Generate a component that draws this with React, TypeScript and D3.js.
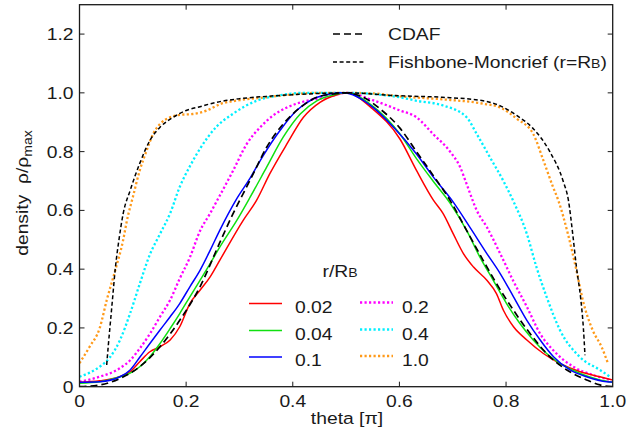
import React from "react";
import * as d3 from "d3";

// ---------- data (theta in units of pi, density normalised) ----------
const xTicks = [0, 0.2, 0.4, 0.6, 0.8, 1.0];
const xTickLabels = ["0", "0.2", "0.4", "0.6", "0.8", "1.0"];
const yTicks = [0, 0.2, 0.4, 0.6, 0.8, 1.0, 1.2];
const yTickLabels = ["0", "0.2", "0.4", "0.6", "0.8", "1.0", "1.2"];

// r/RB = 0.02
const thetaR = [0, 0.038, 0.076, 0.095, 0.113, 0.132, 0.151, 0.17, 0.188, 0.207, 0.226, 0.245, 0.263, 0.307, 0.332, 0.357, 0.389, 0.42, 0.451, 0.482, 0.501, 0.55, 0.601, 0.632, 0.664, 0.682, 0.701, 0.72, 0.739, 0.764, 0.782, 0.795, 0.814, 0.839, 0.87, 0.901, 0.939, 0.976, 1.0];
const rhoR = [0.015, 0.02, 0.035, 0.051, 0.085, 0.119, 0.136, 0.159, 0.204, 0.283, 0.328, 0.374, 0.43, 0.566, 0.634, 0.725, 0.826, 0.917, 0.968, 0.993, 1.0, 0.945, 0.843, 0.736, 0.634, 0.589, 0.52, 0.453, 0.407, 0.362, 0.317, 0.26, 0.204, 0.159, 0.113, 0.079, 0.051, 0.034, 0.023];

// r/RB = 0.04
const thetaG = [0, 0.038, 0.076, 0.095, 0.113, 0.132, 0.151, 0.17, 0.188, 0.207, 0.226, 0.245, 0.263, 0.295, 0.32, 0.351, 0.382, 0.414, 0.445, 0.476, 0.5, 0.55, 0.601, 0.632, 0.663, 0.695, 0.726, 0.751, 0.776, 0.801, 0.826, 0.851, 0.876, 0.901, 0.939, 0.976, 1.0];
const rhoG = [0.012, 0.017, 0.034, 0.046, 0.068, 0.102, 0.147, 0.198, 0.249, 0.306, 0.362, 0.419, 0.475, 0.566, 0.645, 0.747, 0.849, 0.928, 0.973, 0.993, 1.0, 0.955, 0.86, 0.776, 0.7, 0.625, 0.532, 0.441, 0.362, 0.283, 0.215, 0.159, 0.113, 0.079, 0.045, 0.023, 0.015];

// r/RB = 0.1
const thetaB = [0, 0.038, 0.076, 0.095, 0.113, 0.132, 0.151, 0.17, 0.188, 0.207, 0.226, 0.245, 0.263, 0.295, 0.32, 0.344, 0.376, 0.407, 0.438, 0.47, 0.495, 0.551, 0.589, 0.632, 0.663, 0.701, 0.732, 0.764, 0.789, 0.814, 0.839, 0.864, 0.889, 0.92, 0.951, 0.989, 1.0];
const rhoB = [0.015, 0.017, 0.034, 0.057, 0.1, 0.147, 0.193, 0.238, 0.283, 0.34, 0.396, 0.464, 0.532, 0.64, 0.71, 0.785, 0.872, 0.94, 0.979, 0.996, 1.0, 0.95, 0.883, 0.792, 0.715, 0.628, 0.543, 0.453, 0.385, 0.306, 0.226, 0.159, 0.102, 0.057, 0.034, 0.017, 0.016];

// r/RB = 0.2
const thetaM = [0, 0.038, 0.076, 0.095, 0.113, 0.132, 0.151, 0.17, 0.188, 0.207, 0.226, 0.245, 0.263, 0.288, 0.314, 0.339, 0.363, 0.389, 0.426, 0.464, 0.5, 0.55, 0.601, 0.632, 0.663, 0.695, 0.714, 0.726, 0.745, 0.764, 0.789, 0.813, 0.839, 0.864, 0.888, 0.926, 0.963, 0.995];
const rhoM = [0.017, 0.034, 0.063, 0.09, 0.13, 0.18, 0.238, 0.295, 0.368, 0.44, 0.53, 0.59, 0.65, 0.735, 0.827, 0.883, 0.923, 0.95, 0.973, 0.985, 1.0, 0.975, 0.94, 0.917, 0.86, 0.8, 0.747, 0.69, 0.6, 0.543, 0.453, 0.362, 0.272, 0.18, 0.125, 0.068, 0.04, 0.023];

// r/RB = 0.4
const thetaC = [0, 0.019, 0.038, 0.057, 0.076, 0.095, 0.113, 0.132, 0.151, 0.17, 0.188, 0.207, 0.226, 0.257, 0.288, 0.332, 0.37, 0.42, 0.5, 0.6, 0.632, 0.682, 0.726, 0.745, 0.77, 0.795, 0.813, 0.839, 0.857, 0.876, 0.901, 0.939, 0.976, 0.995];
const rhoC = [0.034, 0.048, 0.068, 0.1, 0.159, 0.25, 0.35, 0.45, 0.52, 0.59, 0.68, 0.75, 0.81, 0.885, 0.929, 0.973, 0.99, 1.0, 1.0, 0.985, 0.973, 0.957, 0.917, 0.86, 0.78, 0.7, 0.634, 0.52, 0.407, 0.306, 0.193, 0.1, 0.057, 0.034];

// r/RB = 1.0
const thetaO = [0, 0.019, 0.038, 0.051, 0.067, 0.082, 0.089, 0.1, 0.113, 0.126, 0.138, 0.151, 0.17, 0.188, 0.213, 0.239, 0.264, 0.3, 0.351, 0.4, 0.45, 0.5, 0.55, 0.6, 0.68, 0.757, 0.789, 0.82, 0.851, 0.87, 0.888, 0.898, 0.916, 0.932, 0.944, 0.963, 0.979, 0.991];
const rhoO = [0.08, 0.136, 0.2, 0.294, 0.396, 0.5, 0.566, 0.645, 0.736, 0.804, 0.86, 0.894, 0.917, 0.925, 0.928, 0.94, 0.962, 0.975, 0.985, 0.995, 1.0, 1.0, 0.998, 0.988, 0.978, 0.963, 0.95, 0.912, 0.86, 0.77, 0.68, 0.634, 0.52, 0.396, 0.294, 0.19, 0.136, 0.08];

// CDAF
const thetaD = [0, 0.038, 0.076, 0.113, 0.151, 0.188, 0.226, 0.263, 0.288, 0.307, 0.326, 0.351, 0.382, 0.414, 0.445, 0.476, 0.5, 0.532, 0.564, 0.601, 0.632, 0.663, 0.695, 0.726, 0.757, 0.782, 0.814, 0.845, 0.876, 0.914, 0.951, 0.976, 1.0];
const rhoD = [0, 0.006, 0.028, 0.068, 0.136, 0.226, 0.34, 0.49, 0.589, 0.657, 0.725, 0.815, 0.894, 0.95, 0.985, 0.996, 1.0, 0.985, 0.945, 0.88, 0.8, 0.72, 0.634, 0.532, 0.43, 0.351, 0.26, 0.181, 0.113, 0.057, 0.023, 0.006, 0];

// Fishbone-Moncrief
const thetaFM = [0.051, 0.054, 0.057, 0.062, 0.067, 0.074, 0.082, 0.095, 0.113, 0.132, 0.151, 0.176, 0.2, 0.226, 0.257, 0.3, 0.35, 0.414, 0.5, 0.6, 0.68, 0.757, 0.79, 0.82, 0.85, 0.882, 0.907, 0.917, 0.925, 0.932, 0.94, 0.945, 0.948];
const rhoFM = [0.074, 0.14, 0.2, 0.3, 0.4, 0.5, 0.59, 0.668, 0.76, 0.838, 0.883, 0.917, 0.94, 0.953, 0.968, 0.98, 0.988, 0.995, 1.0, 0.99, 0.985, 0.973, 0.955, 0.923, 0.88, 0.8, 0.7, 0.634, 0.52, 0.407, 0.3, 0.2, 0.107];

const seriesLabels = ["0.02", "0.04", "0.1", "0.2", "0.4", "1.0"];

// ---------- layout ----------
const W = 642, H = 434;
const X0 = 79.5, X1 = 612.7, Y0 = 386.7, Y1 = 4.7;
const FONT = "'Liberation Sans', Arial, Helvetica, sans-serif";
const FS = 16.5;
const SX = 1.17;
const INK = "#1a1a1a";

const x = d3.scaleLinear().domain([0, 1]).range([X0, X1]);
const y = d3.scaleLinear().domain([0, 1.3]).range([Y0, Y1]);

type S = { t: number[]; r: number[]; color: string; width: number; dash?: string };

const solid = (c: string) => ({ color: c, width: 1.5 });
const dotted = (c: string) => ({ color: c, width: 2.3, dash: "2.2 2.3" });

const curves: S[] = [
  { t: thetaO, r: rhoO, ...dotted("#ff9a1a") },
  { t: thetaC, r: rhoC, ...dotted("#00f0ff") },
  { t: thetaM, r: rhoM, ...dotted("#ff00ff") },
  { t: thetaR, r: rhoR, ...solid("#ff0000") },
  { t: thetaG, r: rhoG, ...solid("#10e010") },
  { t: thetaB, r: rhoB, ...solid("#0000ff") },
  { t: thetaD, r: rhoD, color: "#000", width: 1.7, dash: "7 4" },
  { t: thetaFM, r: rhoFM, color: "#000", width: 1.5, dash: "4 2.6" },
];

const lineGen = d3
  .line<[number, number]>()
  .x((d) => x(d[0]))
  .y((d) => y(d[1]))
  .curve(d3.curveMonotoneX);

function T(props: { x: number; y: number; anchor?: string; size?: number; rotate?: number; children: React.ReactNode }) {
  const { x: tx, y: ty, anchor = "start", size = FS, rotate = 0, children } = props;
  return (
    <text
      transform={`translate(${tx},${ty})${rotate ? ` rotate(${rotate})` : ""} scale(${SX},1)`}
      textAnchor={anchor as any}
      fontSize={size}
      fontFamily={FONT}
      fill={INK}
      style={{ whiteSpace: "pre" }}
    >
      {children}
    </text>
  );
}

export default function App() {
  const legendRows = [0, 1, 2];
  const legRowY = [303.5, 330.5, 357];
  return (
    <svg width={W} height={H} style={{ position: "absolute", left: 0, top: 0, background: "#fff" }}>
      <defs>
        <clipPath id="plot">
          <rect x={X0} y={Y1} width={X1 - X0} height={Y0 - Y1} />
        </clipPath>
      </defs>
      <rect x={0} y={0} width={W} height={H} fill="#fff" />

      <g clipPath="url(#plot)">
        {curves.map((c, i) => (
          <path
            key={i}
            d={lineGen(c.t.map((t, j) => [t, c.r[j]] as [number, number])) || ""}
            fill="none"
            stroke={c.color}
            strokeWidth={c.width}
            strokeDasharray={c.dash}
          />
        ))}
      </g>

      {/* frame */}
      <rect x={X0} y={Y1} width={X1 - X0} height={Y0 - Y1} fill="none" stroke={INK} strokeWidth={1.3} />

      {/* ticks */}
      {xTicks.map((t, i) => (
        <g key={"xt" + i}>
          {i > 0 && i < xTicks.length - 1 && (
            <>
              <line x1={x(t)} x2={x(t)} y1={Y0} y2={Y0 - 5} stroke={INK} strokeWidth={1} />
              <line x1={x(t)} x2={x(t)} y1={Y1} y2={Y1 + 5} stroke={INK} strokeWidth={1} />
            </>
          )}
          <T x={x(t)} y={406.5} anchor="middle">
            {xTickLabels[i]}
          </T>
        </g>
      ))}
      {yTicks.map((t, i) => (
        <g key={"yt" + i}>
          {i > 0 && (
            <>
              <line x1={X0} x2={X0 + 5} y1={y(t)} y2={y(t)} stroke={INK} strokeWidth={1} />
              <line x1={X1} x2={X1 - 5} y1={y(t)} y2={y(t)} stroke={INK} strokeWidth={1} />
            </>
          )}
          <T x={73.5} y={y(t) + 5.9} anchor="end">
            {yTickLabels[i]}
          </T>
        </g>
      ))}

      {/* axis labels */}
      <T x={347} y={423.5} anchor="middle">
        theta [π]
      </T>
      <T x={27.5} y={193} anchor="middle" rotate={-90}>
        {"density  ρ/ρ"}
        <tspan fontSize={12} dy={4}>
          max
        </tspan>
      </T>

      {/* legend: models */}
      <line x1={333} x2={363} y1={34} y2={34} stroke="#000" strokeWidth={1.7} strokeDasharray="7 4" />
      <T x={388} y={40}>
        CDAF
      </T>
      <line x1={333} x2={364} y1={62} y2={62} stroke="#000" strokeWidth={1.5} strokeDasharray="4 2.6" />
      <T x={388} y={68}>
        {"Fishbone-Moncrief (r=R"}
        <tspan fontSize={12}>B</tspan>
        {")"}
      </T>

      {/* legend: r/RB */}
      <T x={322.5} y={276.7}>
        {"r/R"}
        <tspan fontSize={12}>B</tspan>
      </T>
      {legendRows.map((row) => {
        const a = curves[3 + row];
        const b = curves[2 - row];
        return (
          <g key={"lg" + row}>
            <line x1={249} x2={282} y1={legRowY[row]} y2={legRowY[row]} stroke={a.color} strokeWidth={a.width} />
            <T x={295} y={legRowY[row] + 9}>
              {seriesLabels[row]}
            </T>
            <line
              x1={360}
              x2={393}
              y1={legRowY[row] - 1}
              y2={legRowY[row] - 1}
              stroke={b.color}
              strokeWidth={b.width}
              strokeDasharray={b.dash}
            />
            <T x={402} y={legRowY[row] + 9}>
              {seriesLabels[3 + row]}
            </T>
          </g>
        );
      })}
    </svg>
  );
}
